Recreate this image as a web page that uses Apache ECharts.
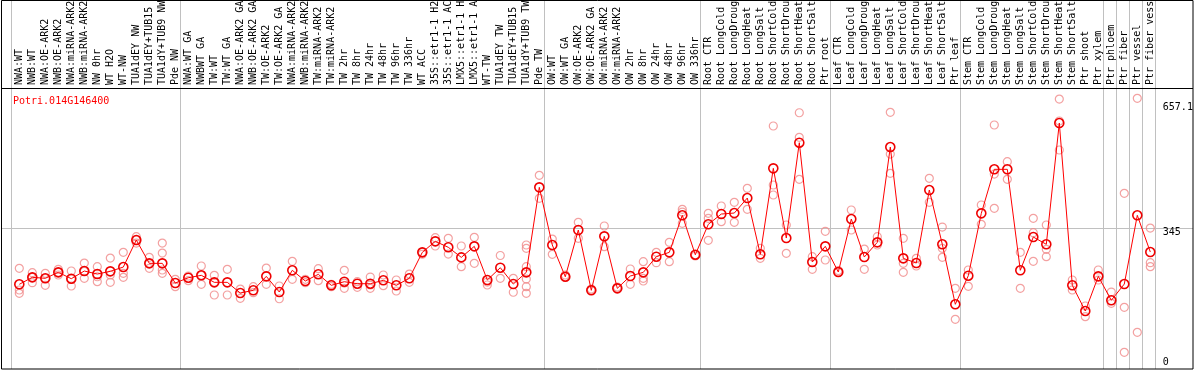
<!DOCTYPE html>
<html>
<head>
<meta charset="utf-8">
<script src="https://cdn.jsdelivr.net/npm/echarts@6/dist/echarts.min.js"></script>
<style>
html,body{margin:0;padding:0;background:#fff;}
#c{width:1194px;height:370px;}
</style>
</head>
<body>
<div id="c"></div>
<script>
const geneTitle = 'Potri.014G146400';
const categories = [
  'NWA:WT','NWB:WT','NWA:OE-ARK2','NWB:OE-ARK2','NWA:miRNA-ARK2','NWB:miRNA-ARK2','NW 0hr','WT H2O','WT-NW','TUA1dEY NW','TUA1dEY+TUB15 NW','TUA1dY+TUB9 NW','Pde NW',
  'NWA:WT GA','NWBWT GA','TW:WT','TW:WT GA','NWA:OE-ARK2 GA','NWB:OE-ARK2 GA','TW:OE-ARK2','TW:OE-ARK2 GA','NWA:miRNA-ARK2','NWB:miRNA-ARK2','TW:miRNA-ARK2','TW:miRNA-ARK2',
  'TW 2hr','TW 8hr','TW 24hr','TW 48hr','TW 96hr','TW 336hr','WT ACC','35S::etr1-1 H2O','35S::etr1-1 ACC','LMX5::etr1-1 H2O','LMX5::etr1-1 ACC','WT-TW','TUA1dEY TW','TUA1dEY+TUB15 TW','TUA1dY+TUB9 TW','Pde TW',
  'OW:WT','OW:WT GA','OW:OE-ARK2','OW:OE-ARK2 GA','OW:miRNA-ARK2','OW:miRNA-ARK2','OW 2hr','OW 8hr','OW 24hr','OW 48hr','OW 96hr','OW 336hr',
  'Root CTR','Root LongCold','Root LongDrought','Root LongHeat','Root LongSalt','Root ShortCold','Root ShortDrought','Root ShortHeat','Root ShortSalt','Ptr root',
  'Leaf CTR','Leaf LongCold','Leaf LongDrought','Leaf LongHeat','Leaf LongSalt','Leaf ShortCold','Leaf ShortDrought','Leaf ShortHeat','Leaf ShortSalt','Ptr leaf',
  'Stem CTR','Stem LongCold','Stem LongDrought','Stem LongHeat','Stem LongSalt','Stem ShortCold','Stem ShortDrought','Stem ShortHeat','Stem ShortSalt','Ptr shoot','Ptr xylem',
  'Ptr phloem','Ptr fiber','Ptr vessel','Ptr fiber vessel'
];
const means = [
  200.5,218.5,216,231.4,215,234.8,227,234,245,314.8,254.6,254.6,203.8,
  217.5,223.7,205.6,205.6,178,185,221,180.6,236.6,209,226.3,197.9,
  207.2,202,202,210.8,197.9,216,283,311.4,296,270,298.5,211.6,243.3,201.2,231.4,450.7,
  301.9,220,340.6,185,324.3,190.1,221.9,231.4,271.7,283,378.5,276.8,
  355.3,381.8,384.4,423.1,277.9,499.7,319.9,565.8,258,298.5,
  232.2,368.9,270.9,308.8,554.7,267.5,255.4,443.8,303.7,148.9,
  222.7,383.6,497.2,497.2,236.6,322.5,303.7,616.6,197.9,131.6,221,
  159.2,201.2,378.5,283.8
];
const replicates = [
  [241.7,185.8,177.2],[230.4,204.6,218.5],[228.8,197.9,216],[239.2,224.5,231.4],[234.8,196.1,214.1],[255.4,216,233.5],[245.9,220,207.2],[268.3,224.5,205.6],[283,228.8,218.5],[323.3,314.8,307],[270.1,241.7,254.6],[307,281.2,237.4,228.8],[213.4,194.3],
  [221.9,209.8],[247.7,200.5,223.7],[223.7,172.9,205.6],[239.2,172.9],[188.3,164.3],[194.3,178.8],[242.5,200.5],[196.1,163.3],[259.8,213.4],[204.6,213.4],[240.8,209.8],[200.5,194.3],
  [236.6,190.1,203.8],[207.2,192.7],[219.3,190.1,198.7],[224.5,196.9],[211.6,183.2],[227,205.6],[283,278],[320.7,299.3],[319.1,278.6],[299.3,245.9],[321.7,254.6],[198.7,206.4],[274.8,216],[216,180],[301.9,293.3,245.9,214.1,194.3,177.2],[481.7,422.3],
  [317.3,277.9],[220,224.5],[360.4,319.1],[185,188.3],[350.9,297.5],[190.1,193.5],[240,200.5],[258.8,216,209],[283,256.2],[308.8,258.8],[394,357.9,387],[276.8,273.5],
  [383.6,370.7,314],[402.5,362],[412,360.4],[448.1,394],[293.3,267.5],[608.9,456.7,430.9],[353.5,280.4],[643.2,579.7,471.4],[271.7,239.2],[337.2,263.2],
  [232.2,236],[392.2,340.6],[291.5,239.2],[323.3,301.9],[644.2,536.6,486.8],[319.1,254.6,231.4],[267.5,247.7],[474,412],[348.3,293.3,270.1],[190.1,110.2],
  [237.4,195.3],[405.1,355.3],[611.5,485,396.5],[516.8,471.4],[283,190.1],[370.7,333.6,259.8],[353.5,290.7,271.7],[678.5,621.8,547],[211.6,185.8],[144.5,116.9],[237.4,211.6],
  [180.6,151.4],[435.2,141.1,25],[680.3,76.6],[345.7,256.2,245.9]
];
const yTickLabels = [0, 345, 657.1];
const refLineValue = 345;
const groupBreaks = [0, 13, 41, 53, 63, 73, 84, 85, 86, 87, 88];

const repData = [];
replicates.forEach((arr, i) => arr.forEach(v => repData.push([i, v])));

const FONT = 'DejaVu Sans Mono';
const chart = echarts.init(document.getElementById('c'));
chart.setOption({
  animation: false,
  backgroundColor: '#ffffff',
  title: {
    text: geneTitle, left: 8, top: 91,
    textStyle: { color: '#ff0000', fontSize: 10, fontWeight: 'normal', fontFamily: FONT }
  },
  grid: { left: 12.8, right: 37.2, top: 88, bottom: 1, containLabel: false, outerBoundsMode: 'none' },
  xAxis: {
    type: 'category', data: categories, position: 'top', boundaryGap: true,
    axisLine: { show: false }, axisTick: { show: false }, splitLine: { show: false },
    axisLabel: { interval: 0, rotate: 90, margin: 3, align: 'left', verticalAlign: 'middle', fontSize: 10, fontFamily: FONT, color: '#000' }
  },
  yAxis: {
    type: 'value', position: 'right', min: -18, max: 707,
    axisLine: { show: false }, axisTick: { show: false }, splitLine: { show: false },
    axisLabel: {
      customValues: yTickLabels, margin: 6, align: 'left', fontSize: 10, fontFamily: FONT, color: '#000',
      formatter: v => (Math.abs(v - refLineValue) < 0.01 ? '{d|' + v + '}' : String(v)),
      rich: { d: { fontSize: 10, fontFamily: FONT, color: '#000', padding: [9, 0, 0, 0] } }
    }
  },
  series: [
    {
      type: 'scatter', data: repData, symbol: 'circle', symbolSize: 8, z: 2,
      itemStyle: { color: 'rgba(0,0,0,0)', borderColor: '#f08a8a', borderWidth: 1.2 }
    },
    {
      type: 'line', data: means, symbol: 'circle', symbolSize: 9, z: 3,
      lineStyle: { color: '#ff0000', width: 1 },
      itemStyle: { color: 'rgba(0,0,0,0)', borderColor: '#ee0000', borderWidth: 1.6 }
    }
  ]
});

function drawDecor() {
  const c0 = chart.convertToPixel({ xAxisIndex: 0 }, 0);
  const c1 = chart.convertToPixel({ xAxisIndex: 0 }, 1);
  const half = (c1 - c0) / 2;
  const els = [];
  const yRef = Math.round(chart.convertToPixel({ yAxisIndex: 0 }, refLineValue)) + 0.5;
  els.push({ type: 'line', z: 0, shape: { x1: 1, y1: yRef, x2: 1193, y2: yRef }, style: { stroke: '#c0c0c0', lineWidth: 1 } });
  groupBreaks.forEach(k => {
    const x = Math.round(c0 - half + k * 2 * half) - 1.5;
    els.push({ type: 'line', z: 0, shape: { x1: x, y1: 0, x2: x, y2: 369 }, style: { stroke: '#c0c0c0', lineWidth: 1 } });
  });
  els.push({ type: 'line', z: 5, shape: { x1: 1, y1: 88.5, x2: 1193, y2: 88.5 }, style: { stroke: '#000', lineWidth: 1 } });
  els.push({ type: 'rect', z: 5, shape: { x: 1.5, y: 0.5, width: 1191.5, height: 368.5 }, style: { fill: 'none', stroke: '#000', lineWidth: 1 } });
  chart.setOption({ graphic: { elements: els } });
}
drawDecor();
</script>
</body>
</html>
